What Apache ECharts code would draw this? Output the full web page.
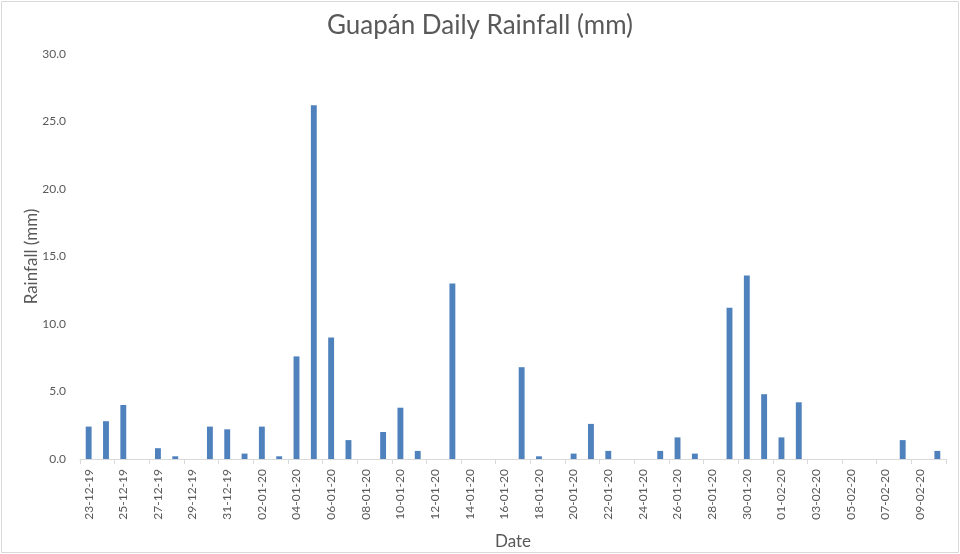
<html>
<head>
  <meta charset="utf-8">
  <title>Guapán Daily Rainfall</title>
  <script type="text/javascript" src="https://cdn.jsdelivr.net/npm/echarts@6/dist/echarts.min.js"></script>
  <style>
    html, body { margin: 0; padding: 0; background: #fff; }
  </style>
</head>
<body>
<div id="chartmain" style="width:960px; height:554px;"></div>
<script type="text/javascript">
  // daily dates 23-12-19 .. 10-02-20
  var dates = [
    '23-12-19', '24-12-19', '25-12-19', '26-12-19', '27-12-19', '28-12-19', '29-12-19', '30-12-19', '31-12-19',
    '01-01-20', '02-01-20', '03-01-20', '04-01-20', '05-01-20', '06-01-20', '07-01-20', '08-01-20', '09-01-20',
    '10-01-20', '11-01-20', '12-01-20', '13-01-20', '14-01-20', '15-01-20', '16-01-20', '17-01-20', '18-01-20',
    '19-01-20', '20-01-20', '21-01-20', '22-01-20', '23-01-20', '24-01-20', '25-01-20', '26-01-20', '27-01-20',
    '28-01-20', '29-01-20', '30-01-20', '31-01-20', '01-02-20', '02-02-20', '03-02-20', '04-02-20', '05-02-20',
    '06-02-20', '07-02-20', '08-02-20', '09-02-20', '10-02-20'
  ];
  // rainfall in mm
  var rainfall = [
    2.4, 2.8, 4.0, 0, 0.8, 0.2, 0, 2.4, 2.2,
    0.4, 2.4, 0.2, 7.6, 26.2, 9.0, 1.4, 0, 2.0,
    3.8, 0.6, 0, 13.0, 0, 0, 0, 6.8, 0.2,
    0, 0.4, 2.6, 0.6, 0, 0, 0.6, 1.6, 0.4,
    0, 11.2, 13.6, 4.8, 1.6, 4.2, 0, 0, 0,
    0, 0, 1.4, 0, 0.6
  ];
  var yTicks = [0, 5, 10, 15, 20, 25, 30];

  var font = 'Lato, "Open Sans", sans-serif';
  var grey = '#595959';

  var option = {
    animation: false,
    textStyle: { fontFamily: font },
    title: {
      text: 'Guapán Daily Rainfall (mm)',
      left: 'center',
      top: 8,
      textStyle: { fontFamily: font, fontSize: 26, fontWeight: 'normal', color: grey }
    },
    graphic: [{
      type: 'rect',
      shape: { x: 1.5, y: 1.5, width: 957, height: 551 },
      style: { fill: 'none', stroke: '#d9d9d9', lineWidth: 1 },
      silent: true
    }],
    grid: { left: 80, right: 14, top: 54, bottom: 95, outerBoundsMode: 'none', containLabel: false },
    xAxis: {
      type: 'category',
      data: dates,
      name: 'Date',
      nameLocation: 'middle',
      nameGap: 74,
      nameTextStyle: { fontFamily: font, fontSize: 17, color: grey },
      axisLine: { lineStyle: { color: '#d9d9d9' } },
      axisTick: { show: true, interval: 1, length: 5, lineStyle: { color: '#d9d9d9' } },
      axisLabel: { interval: 1, rotate: 90, fontSize: 12, color: grey, margin: 10 }
    },
    yAxis: {
      type: 'value',
      min: yTicks[0],
      max: yTicks[yTicks.length - 1],
      interval: yTicks[1] - yTicks[0],
      name: 'Rainfall (mm)',
      nameLocation: 'middle',
      nameGap: 40,
      nameMoveOverlap: false,
      nameTextStyle: { fontFamily: font, fontSize: 17, color: grey },
      axisLine: { show: false },
      axisTick: { show: false },
      splitLine: { show: false },
      axisLabel: {
        fontSize: 12, color: grey, margin: 14,
        formatter: function (v) { return v.toFixed(1); }
      }
    },
    series: [{
      name: 'Rainfall',
      type: 'bar',
      data: rainfall,
      barWidth: '34%',
      itemStyle: { color: '#4f81bd' }
    }]
  };

  var myChart = echarts.init(document.getElementById('chartmain'));
  myChart.setOption(option);
</script>
</body>
</html>
